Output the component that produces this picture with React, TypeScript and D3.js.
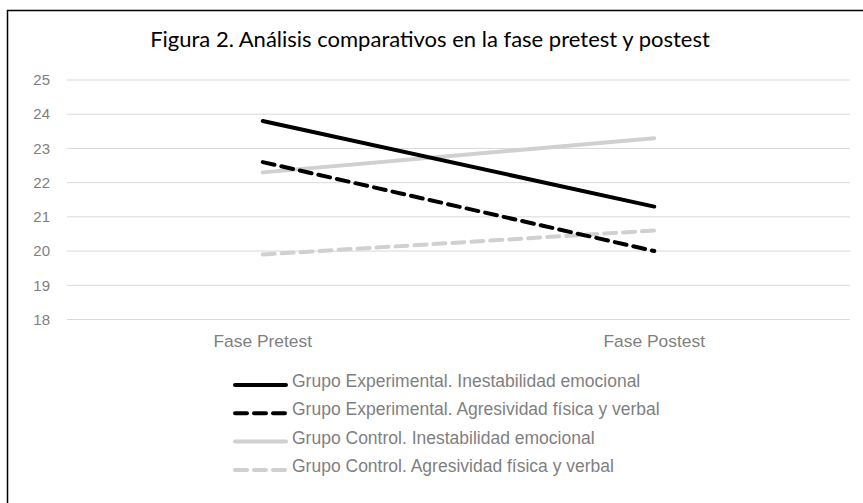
import React, { useEffect, useRef } from 'react'
import * as d3 from 'd3'

const categories = ['Fase Pretest', 'Fase Postest']
const seriesNames = [
  'Grupo Experimental. Inestabilidad emocional',
  'Grupo Experimental. Agresividad física y verbal',
  'Grupo Control. Inestabilidad emocional',
  'Grupo Control. Agresividad física y verbal',
]
const expInestabilidad = [23.8, 21.3]
const expAgresividad = [22.6, 20.0]
const ctrlInestabilidad = [22.3, 23.3]
const ctrlAgresividad = [19.9, 20.6]
const yTicks = [18, 19, 20, 21, 22, 23, 24, 25]

const W = 863
const H = 503

export default function App() {
  const ref = useRef<SVGSVGElement>(null)

  useEffect(() => {
    const svg = d3.select(ref.current)
    svg.selectAll('*').remove()

    const left = 67, right = 850, top = 80, bottom = 319.5

    // frame around the figure
    svg.append('rect')
      .attr('x', 7.5).attr('y', 10.5)
      .attr('width', 880).attr('height', 520)
      .attr('fill', '#fff').attr('stroke', '#000').attr('stroke-width', 1.5)

    svg.append('text')
      .attr('x', 430).attr('y', 47)
      .attr('text-anchor', 'middle')
      .attr('font-family', 'Lato, sans-serif')
      .attr('font-size', 22)
      .attr('fill', '#000')
      .text('Figura 2. Análisis comparativos en la fase pretest y postest')

    const x = d3.scalePoint().domain(categories).range([left, right]).padding(0.5)
    const y = d3.scaleLinear().domain([18, 25]).range([bottom, top])

    const grid = svg.append('g')
    grid.selectAll('line')
      .data(yTicks)
      .enter()
      .append('line')
      .attr('x1', left).attr('x2', right)
      .attr('y1', d => y(d)).attr('y2', d => y(d))
      .attr('stroke', '#d9d9d9').attr('stroke-width', 1)

    grid.selectAll('text')
      .data(yTicks)
      .enter()
      .append('text')
      .attr('x', 50).attr('y', d => y(d))
      .attr('dy', '0.35em')
      .attr('text-anchor', 'end')
      .attr('font-family', 'Liberation Sans, Arial, sans-serif')
      .attr('font-size', 15)
      .attr('fill', '#7f7f7f')
      .text(d => d)

    svg.selectAll('text.cat')
      .data(categories)
      .enter()
      .append('text')
      .attr('class', 'cat')
      .attr('x', d => x(d) as number).attr('y', 347)
      .attr('text-anchor', 'middle')
      .attr('font-family', 'Liberation Sans, Arial, sans-serif')
      .attr('font-size', 17.4)
      .attr('fill', '#7f7f7f')
      .text(d => d)

    const series = [
      { name: seriesNames[0], values: expInestabilidad, color: '#000', dash: null },
      { name: seriesNames[1], values: expAgresividad, color: '#000', dash: '12,7' },
      { name: seriesNames[2], values: ctrlInestabilidad, color: '#d0d0d0', dash: null },
      { name: seriesNames[3], values: ctrlAgresividad, color: '#d0d0d0', dash: '12,7' },
    ]

    const line = d3.line<number>()
      .x((d, i) => x(categories[i]) as number)
      .y(d => y(d))

    // draw grey ones first so the black lines sit on top
    const order = [2, 3, 0, 1]
    order.forEach(i => {
      const s = series[i]
      svg.append('path')
        .attr('d', line(s.values))
        .attr('fill', 'none')
        .attr('stroke', s.color)
        .attr('stroke-width', 4)
        .attr('stroke-linecap', 'round')
        .attr('stroke-dasharray', s.dash)
    })

    const legend = svg.append('g')
    series.forEach((s, i) => {
      const ly = 385 + i * 28.3
      legend.append('line')
        .attr('x1', 235).attr('x2', 286)
        .attr('y1', ly).attr('y2', ly)
        .attr('stroke', s.color)
        .attr('stroke-width', 4)
        .attr('stroke-linecap', 'round')
        .attr('stroke-dasharray', s.dash)
      legend.append('text')
        .attr('x', 292).attr('y', ly + 2)
        .attr('font-family', 'Liberation Sans, Arial, sans-serif')
        .attr('font-size', 17.5)
        .attr('fill', '#7f7f7f')
        .text(s.name)
    })
  }, [])

  return (
    <svg ref={ref} width={W} height={H} style={{ position: 'absolute', left: 0, top: 0, background: '#fff' }} />
  )
}
